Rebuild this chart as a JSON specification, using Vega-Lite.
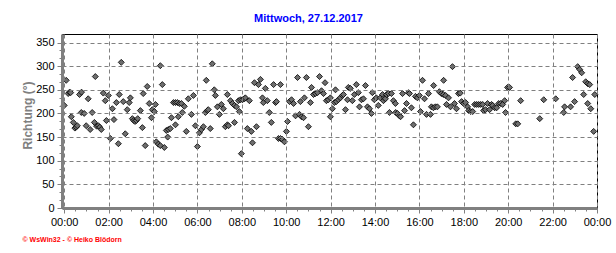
{
  "$schema": "https://vega.github.io/schema/vega-lite/v6.json",
  "width": 535,
  "height": 174,
  "autosize": "none",
  "padding": {"left": 62, "top": 34, "right": 19, "bottom": 45},
  "background": "white",
  "title": {
    "text": "Mittwoch, 27.12.2017",
    "color": "#0000FF",
    "font": "Liberation Sans",
    "fontSize": 11,
    "fontWeight": "bold",
    "anchor": "middle",
    "dx": -21,
    "baseline": "alphabetic",
    "offset": 0.7
  },
  "config": {
    "font": "Liberation Sans",
    "view": {"stroke": "#000000", "strokeWidth": 1}
  },
  "data": {
    "values": [
      {"hour": 0.00, "dir": 217}, {"hour": 0.09, "dir": 270}, {"hour": 0.18, "dir": 242}, {"hour": 0.24, "dir": 245},
      {"hour": 0.29, "dir": 244}, {"hour": 0.32, "dir": 193}, {"hour": 0.41, "dir": 181}, {"hour": 0.48, "dir": 169},
      {"hour": 0.54, "dir": 171}, {"hour": 0.59, "dir": 174}, {"hour": 0.69, "dir": 240}, {"hour": 0.78, "dir": 245},
      {"hour": 0.77, "dir": 202}, {"hour": 0.90, "dir": 200}, {"hour": 0.99, "dir": 174}, {"hour": 1.08, "dir": 231},
      {"hour": 1.17, "dir": 166}, {"hour": 1.26, "dir": 202}, {"hour": 1.36, "dir": 181}, {"hour": 1.40, "dir": 278},
      {"hour": 1.46, "dir": 173}, {"hour": 1.54, "dir": 174}, {"hour": 1.60, "dir": 171}, {"hour": 1.67, "dir": 166},
      {"hour": 1.76, "dir": 243}, {"hour": 1.85, "dir": 227}, {"hour": 1.90, "dir": 185}, {"hour": 1.99, "dir": 238},
      {"hour": 2.08, "dir": 147}, {"hour": 2.17, "dir": 210}, {"hour": 2.24, "dir": 187}, {"hour": 2.35, "dir": 223},
      {"hour": 2.44, "dir": 136}, {"hour": 2.48, "dir": 240}, {"hour": 2.57, "dir": 308}, {"hour": 2.66, "dir": 225},
      {"hour": 2.75, "dir": 157}, {"hour": 2.84, "dir": 208}, {"hour": 2.93, "dir": 223}, {"hour": 2.98, "dir": 233},
      {"hour": 3.07, "dir": 189}, {"hour": 3.13, "dir": 185}, {"hour": 3.19, "dir": 183}, {"hour": 3.25, "dir": 185},
      {"hour": 3.31, "dir": 189}, {"hour": 3.43, "dir": 206}, {"hour": 3.52, "dir": 170}, {"hour": 3.56, "dir": 242},
      {"hour": 3.65, "dir": 132}, {"hour": 3.74, "dir": 257}, {"hour": 3.83, "dir": 221}, {"hour": 3.93, "dir": 191},
      {"hour": 3.97, "dir": 208}, {"hour": 4.06, "dir": 204}, {"hour": 4.11, "dir": 219}, {"hour": 4.15, "dir": 140},
      {"hour": 4.24, "dir": 135}, {"hour": 4.33, "dir": 132}, {"hour": 4.51, "dir": 128}, {"hour": 4.33, "dir": 301},
      {"hour": 4.42, "dir": 261}, {"hour": 4.60, "dir": 164}, {"hour": 4.69, "dir": 166}, {"hour": 4.78, "dir": 168},
      {"hour": 4.66, "dir": 150}, {"hour": 4.83, "dir": 191}, {"hour": 4.92, "dir": 223}, {"hour": 5.01, "dir": 223},
      {"hour": 5.10, "dir": 223}, {"hour": 5.19, "dir": 221}, {"hour": 5.01, "dir": 176}, {"hour": 5.14, "dir": 193},
      {"hour": 5.28, "dir": 221}, {"hour": 5.41, "dir": 215}, {"hour": 5.32, "dir": 202}, {"hour": 5.50, "dir": 162},
      {"hour": 5.59, "dir": 231},
      {"hour": 5.73, "dir": 198}, {"hour": 5.82, "dir": 238}, {"hour": 5.91, "dir": 174}, {"hour": 6.00, "dir": 130},
      {"hour": 6.09, "dir": 159}, {"hour": 6.18, "dir": 166}, {"hour": 6.27, "dir": 172}, {"hour": 6.36, "dir": 202},
      {"hour": 6.45, "dir": 206}, {"hour": 6.49, "dir": 208}, {"hour": 6.40, "dir": 270}, {"hour": 6.58, "dir": 168},
      {"hour": 6.67, "dir": 305}, {"hour": 6.76, "dir": 250}, {"hour": 6.81, "dir": 238}, {"hour": 6.90, "dir": 214},
      {"hour": 6.99, "dir": 198}, {"hour": 7.08, "dir": 219}, {"hour": 7.17, "dir": 210}, {"hour": 7.26, "dir": 172},
      {"hour": 7.35, "dir": 176}, {"hour": 7.40, "dir": 174}, {"hour": 7.35, "dir": 240}, {"hour": 7.49, "dir": 227},
      {"hour": 7.58, "dir": 221}, {"hour": 7.67, "dir": 217}, {"hour": 7.76, "dir": 214}, {"hour": 7.67, "dir": 181},
      {"hour": 7.85, "dir": 227}, {"hour": 7.94, "dir": 229}, {"hour": 7.89, "dir": 204}, {"hour": 7.98, "dir": 115},
      {"hour": 8.03, "dir": 229}, {"hour": 8.12, "dir": 231}, {"hour": 8.16, "dir": 233}, {"hour": 8.25, "dir": 168},
      {"hour": 8.34, "dir": 227}, {"hour": 8.43, "dir": 162}, {"hour": 8.48, "dir": 138}, {"hour": 8.57, "dir": 265},
      {"hour": 8.75, "dir": 261}, {"hour": 8.84, "dir": 272}, {"hour": 8.66, "dir": 172}, {"hour": 8.93, "dir": 233},
      {"hour": 8.97, "dir": 223}, {"hour": 9.15, "dir": 227}, {"hour": 9.06, "dir": 253}, {"hour": 9.24, "dir": 202},
      {"hour": 9.33, "dir": 181}, {"hour": 9.43, "dir": 261}, {"hour": 9.74, "dir": 261}, {"hour": 9.52, "dir": 223},
      {"hour": 9.56, "dir": 225}, {"hour": 9.65, "dir": 147}, {"hour": 9.74, "dir": 147}, {"hour": 9.83, "dir": 145},
      {"hour": 9.92, "dir": 140}, {"hour": 10.01, "dir": 162}, {"hour": 10.06, "dir": 183}, {"hour": 10.15, "dir": 225},
      {"hour": 10.24, "dir": 229}, {"hour": 10.33, "dir": 221}, {"hour": 10.42, "dir": 195}, {"hour": 10.60, "dir": 198},
      {"hour": 10.69, "dir": 193}, {"hour": 10.78, "dir": 191}, {"hour": 10.51, "dir": 276}, {"hour": 10.64, "dir": 225},
      {"hour": 10.82, "dir": 233}, {"hour": 10.91, "dir": 276}, {"hour": 11.00, "dir": 172}, {"hour": 11.09, "dir": 223},
      {"hour": 11.14, "dir": 255}, {"hour": 11.23, "dir": 240}, {"hour": 11.32, "dir": 242}, {"hour": 11.41, "dir": 244},
      {"hour": 11.50, "dir": 278}, {"hour": 11.59, "dir": 248}, {"hour": 11.68, "dir": 242},
      {"hour": 11.75, "dir": 265}, {"hour": 11.81, "dir": 227}, {"hour": 11.90, "dir": 229}, {"hour": 11.99, "dir": 233},
      {"hour": 11.99, "dir": 193}, {"hour": 12.08, "dir": 210}, {"hour": 12.17, "dir": 223}, {"hour": 12.22, "dir": 250},
      {"hour": 12.26, "dir": 225}, {"hour": 12.35, "dir": 229}, {"hour": 12.44, "dir": 233}, {"hour": 12.53, "dir": 238},
      {"hour": 12.58, "dir": 240}, {"hour": 12.67, "dir": 208}, {"hour": 12.76, "dir": 229}, {"hour": 12.80, "dir": 255},
      {"hour": 12.89, "dir": 253}, {"hour": 12.98, "dir": 227}, {"hour": 13.07, "dir": 240}, {"hour": 13.16, "dir": 261},
      {"hour": 13.25, "dir": 244}, {"hour": 13.30, "dir": 214}, {"hour": 13.39, "dir": 229}, {"hour": 13.48, "dir": 231},
      {"hour": 13.57, "dir": 259}, {"hour": 13.66, "dir": 214}, {"hour": 13.75, "dir": 210}, {"hour": 13.84, "dir": 200},
      {"hour": 13.88, "dir": 244}, {"hour": 13.97, "dir": 229}, {"hour": 14.06, "dir": 233}, {"hour": 14.15, "dir": 217},
      {"hour": 14.24, "dir": 233}, {"hour": 14.34, "dir": 240}, {"hour": 14.38, "dir": 227}, {"hour": 14.43, "dir": 233},
      {"hour": 14.47, "dir": 231}, {"hour": 14.52, "dir": 240}, {"hour": 14.61, "dir": 242}, {"hour": 14.65, "dir": 202},
      {"hour": 14.74, "dir": 242}, {"hour": 14.83, "dir": 227}, {"hour": 14.92, "dir": 221}, {"hour": 14.93, "dir": 202},
      {"hour": 15.01, "dir": 200}, {"hour": 15.10, "dir": 195}, {"hour": 15.15, "dir": 193}, {"hour": 15.24, "dir": 242},
      {"hour": 15.33, "dir": 206}, {"hour": 15.42, "dir": 221}, {"hour": 15.51, "dir": 244}, {"hour": 15.55, "dir": 242},
      {"hour": 15.64, "dir": 212}, {"hour": 15.73, "dir": 176}, {"hour": 15.82, "dir": 236}, {"hour": 15.91, "dir": 233},
      {"hour": 16.00, "dir": 238}, {"hour": 16.05, "dir": 204}, {"hour": 16.14, "dir": 270}, {"hour": 16.23, "dir": 231},
      {"hour": 16.32, "dir": 198}, {"hour": 16.41, "dir": 242}, {"hour": 16.50, "dir": 198}, {"hour": 16.54, "dir": 214},
      {"hour": 16.63, "dir": 212}, {"hour": 16.64, "dir": 259}, {"hour": 16.72, "dir": 214}, {"hour": 16.81, "dir": 214},
      {"hour": 16.90, "dir": 246}, {"hour": 16.99, "dir": 242}, {"hour": 17.08, "dir": 240}, {"hour": 17.09, "dir": 270},
      {"hour": 17.18, "dir": 238}, {"hour": 17.31, "dir": 233}, {"hour": 17.22, "dir": 219}, {"hour": 17.40, "dir": 214},
      {"hour": 17.49, "dir": 299}, {"hour": 17.58, "dir": 221}, {"hour": 17.67, "dir": 210}, {"hour": 17.76, "dir": 242},
      {"hour": 17.84, "dir": 243}, {"hour": 17.90, "dir": 225}, {"hour": 17.99, "dir": 221}, {"hour": 18.08, "dir": 223},
      {"hour": 18.17, "dir": 214}, {"hour": 18.22, "dir": 206}, {"hour": 18.31, "dir": 204}, {"hour": 18.40, "dir": 204},
      {"hour": 18.49, "dir": 219}, {"hour": 18.58, "dir": 219}, {"hour": 18.67, "dir": 219}, {"hour": 18.76, "dir": 219},
      {"hour": 18.85, "dir": 219}, {"hour": 18.89, "dir": 206}, {"hour": 18.98, "dir": 208}, {"hour": 19.07, "dir": 221},
      {"hour": 19.16, "dir": 208}, {"hour": 19.25, "dir": 219}, {"hour": 19.30, "dir": 217}, {"hour": 19.39, "dir": 212},
      {"hour": 19.48, "dir": 212}, {"hour": 19.57, "dir": 221}, {"hour": 19.66, "dir": 221}, {"hour": 19.75, "dir": 219},
      {"hour": 19.84, "dir": 227}, {"hour": 19.88, "dir": 202}, {"hour": 19.97, "dir": 255}, {"hour": 20.06, "dir": 255},
      {"hour": 20.34, "dir": 178}, {"hour": 20.43, "dir": 178}, {"hour": 20.56, "dir": 227}, {"hour": 21.42, "dir": 189},
      {"hour": 21.60, "dir": 229}, {"hour": 22.14, "dir": 231}, {"hour": 22.50, "dir": 202}, {"hour": 22.54, "dir": 214},
      {"hour": 22.81, "dir": 214}, {"hour": 22.99, "dir": 225}, {"hour": 22.90, "dir": 276}, {"hour": 23.13, "dir": 299},
      {"hour": 23.22, "dir": 293}, {"hour": 23.31, "dir": 286}, {"hour": 23.40, "dir": 240}, {"hour": 23.49, "dir": 267},
      {"hour": 23.58, "dir": 263}, {"hour": 23.67, "dir": 261}, {"hour": 23.58, "dir": 221}, {"hour": 23.72, "dir": 210},
      {"hour": 23.85, "dir": 162}, {"hour": 23.90, "dir": 240}
    ]
  },
  "mark": {
    "type": "point",
    "shape": "diamond",
    "filled": true,
    "fill": "#6e6e6e",
    "stroke": "#000000",
    "strokeWidth": 0.8,
    "opacity": 1,
    "size": 36
  },
  "encoding": {
    "x": {
      "field": "hour",
      "type": "quantitative",
      "scale": {"domain": [-0.1, 24], "nice": false, "zero": false},
      "axis": {
        "values": [0,0.5,1,1.5,2,2.5,3,3.5,4,4.5,5,5.5,6,6.5,7,7.5,8,8.5,9,9.5,10,10.5,11,11.5,12,12.5,13,13.5,14,14.5,15,15.5,16,16.5,17,17.5,18,18.5,19,19.5,20,20.5,21,21.5,22,22.5,23,23.5,24],
        "labelExpr": "datum.value % 2 == 0 ? ((datum.value % 24 < 10 ? '0' : '') + (datum.value % 24) + ':00') : ''",
        "labelOverlap": false,
        "labelFlush": false,
        "labelFont": "Liberation Sans",
        "labelFontSize": 11,
        "labelColor": "#000000",
        "labelPadding": 3,
        "domainColor": "#808080",
        "domainWidth": 3,
        "tickColor": "#808080",
        "tickWidth": 1,
        "tickSize": {"condition": {"test": "datum.value % 2 == 0", "value": 5}, "value": 3},
        "grid": true,
        "gridColor": "#808080",
        "gridDash": [4, 3],
        "gridWidth": 1,
        "gridOpacity": {"condition": {"test": "datum.value % 2 == 0", "value": 1}, "value": 0},
        "zindex": 1,
        "title": "© WsWin32 - © Heiko Blödorn",
        "titleColor": "#FF0000",
        "titleFont": "Liberation Sans",
        "titleFontSize": 7,
        "titleFontWeight": "bold",
        "titleAlign": "left",
        "titleAnchor": "start",
        "titleBaseline": "alphabetic",
        "titleX": -40,
        "titleY": 33.5
      }
    },
    "y": {
      "field": "dir",
      "type": "quantitative",
      "scale": {"domain": [0, 368], "nice": false, "zero": false},
      "axis": {
        "values": [0,16.6667,33.3333,50,66.6667,83.3333,100,116.6667,133.3333,150,166.6667,183.3333,200,216.6667,233.3333,250,266.6667,283.3333,300,316.6667,333.3333,350],
        "labelExpr": "abs(datum.value / 50 - round(datum.value / 50)) < 0.01 ? format(datum.value, 'd') : ''",
        "labelOverlap": false,
        "labelFlush": false,
        "labelFont": "Liberation Sans",
        "labelFontSize": 11,
        "labelColor": "#000000",
        "labelPadding": 3,
        "domainColor": "#808080",
        "domainWidth": 3,
        "tickColor": "#808080",
        "tickWidth": 1,
        "tickSize": {"condition": {"test": "abs(datum.value / 50 - round(datum.value / 50)) < 0.01", "value": 5}, "value": 3},
        "grid": true,
        "gridColor": "#808080",
        "gridDash": [4, 3],
        "gridWidth": 1,
        "gridOpacity": {"condition": {"test": "abs(datum.value / 50 - round(datum.value / 50)) < 0.01 && datum.value > 0", "value": 1}, "value": 0},
        "zindex": 1,
        "title": "Richtung (°)",
        "titleColor": "#808080",
        "titleFont": "Liberation Sans",
        "titleFontSize": 12,
        "titleFontWeight": "bold",
        "titleAngle": 270,
        "titleAlign": "center",
        "titleBaseline": "alphabetic",
        "titleX": -31,
        "titleY": 81
      }
    }
  }
}
